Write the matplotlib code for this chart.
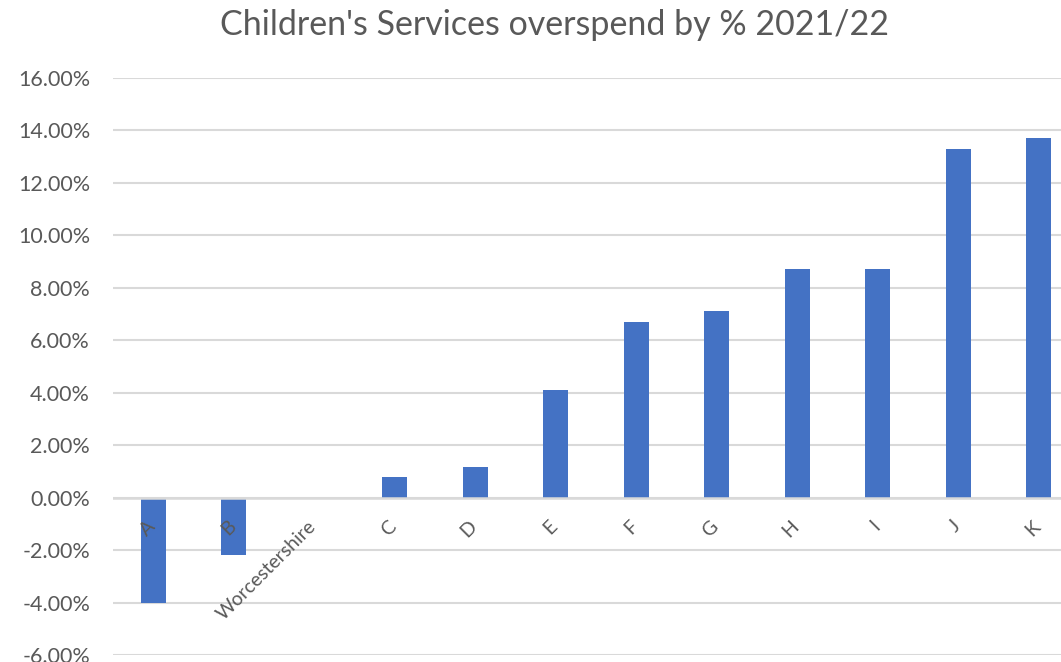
import numpy as np
import matplotlib
matplotlib.use("Agg")
import matplotlib.pyplot as plt
import matplotlib.transforms as mtransforms
from matplotlib.ticker import FuncFormatter

# 데이터
councils = ["A", "B", "Worcestershire", "C", "D", "E", "F", "G", "H", "I", "J", "K"]
overspend = [-4.0, -2.17, 0.0, 0.8, 1.17, 4.11, 6.68, 7.13, 8.73, 8.73, 13.3, 13.72]
y_ticks = [-6, -4, -2, 0, 2, 4, 6, 8, 10, 12, 14, 16]

plt.rcParams["font.family"] = ["Lato", "DejaVu Sans"]
grey = "#595959"

fig = plt.figure(figsize=(10.61, 6.62), dpi=100)
# 축이 오른쪽으로 잘려 보이도록 figure 밖까지 확장
ax = fig.add_axes([113 / 1061, 7 / 662, 966 / 1061, 577 / 662])

x = np.arange(len(councils))
ax.bar(x, overspend, width=0.31, color="#4472C4", zorder=3)

ax.set_xlim(-0.5, len(councils) - 0.5)
ax.set_ylim(-6, 16)
ax.set_yticks(y_ticks)
ax.yaxis.set_major_formatter(FuncFormatter(lambda v, p: f"{v:.2f}%"))
ax.tick_params(axis="y", length=0, pad=16.5, labelsize=15.5, labelcolor=grey)
ax.set_xticks([])
ax.grid(axis="y", color="#d9d9d9", linewidth=1.5, zorder=0)
for s in ax.spines.values():
    s.set_visible(False)
ax.axhline(0, color="#d9d9d9", linewidth=1.8, zorder=4)

# x 라벨은 0 선 아래에 45도로
offset = mtransforms.ScaledTranslation(5 / 100, -20 / 100, fig.dpi_scale_trans)
for xi, name in zip(x, councils):
    ax.text(xi, 0, name, rotation=45, ha="right", va="top", fontsize=14,
            color=grey, transform=ax.transData + offset, zorder=5)

fig.text(555 / 1061, 1 - 25 / 662, "Children's Services overspend by % 2021/22",
         ha="center", va="center", fontsize=24.5, color=grey)

fig.savefig("out.png", dpi=100)
